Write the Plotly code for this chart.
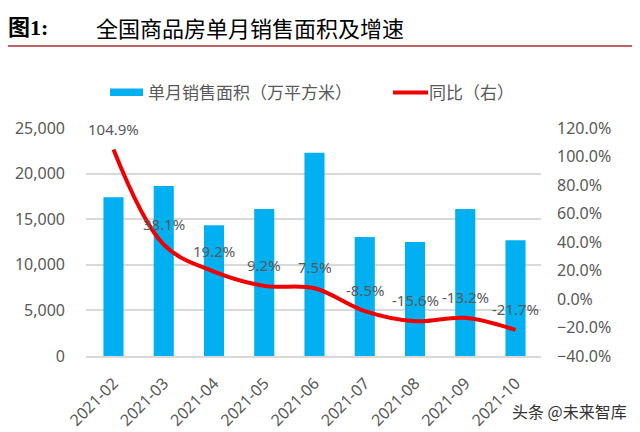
import plotly.graph_objects as go

months = ["2021-02", "2021-03", "2021-04", "2021-05", "2021-06",
          "2021-07", "2021-08", "2021-09", "2021-10"]
area = [17400, 18650, 14330, 16120, 22280, 13050, 12500, 16120, 12690]
yoy = [104.9, 38.1, 19.2, 9.2, 7.5, -8.5, -15.6, -13.2, -21.7]
yoy_labels = ["104.9%", "38.1%", "19.2%", "9.2%", "7.5%", "-8.5%", "-15.6%", "-13.2%", "-21.7%"]

# page body has an 8px margin; work in screen pixels and convert
OFF = 8
W, H = 640 - OFF, 432 - OFF
# screen plot area: x 86..541, y 128..356
SL, SR, ST, SB = 86, 541, 128, 356
L, T = SL - OFF, ST - OFF
R = W - (SR - OFF)
B = H - (SB - OFF)
pw, ph = W - L - R, H - T - B


def px(sx):
    return (sx - OFF - L) / pw


def py(sy):
    return (H - B - (sy - OFF)) / ph


gray = "#595959"
tickfont = dict(family="Noto Sans, DejaVu Sans", size=16, color=gray)
bar_color = "#00B0F0"
line_color = "#F00000"

fig = go.Figure()
fig.add_trace(go.Bar(
    x=months, y=area, name="单月销售面积（万平方米）",
    marker=dict(color=bar_color, line=dict(width=0)),
    yaxis="y", showlegend=False,
))
fig.add_trace(go.Scatter(
    x=months, y=yoy, name="同比（右）", mode="lines",
    line=dict(color=line_color, width=4, shape="spline", smoothing=1.0),
    yaxis="y2", showlegend=False,
))

annotations = []
for m, v, t in zip(months, yoy, yoy_labels):
    annotations.append(dict(
        x=m, y=v, xref="x", yref="y2", text=t, showarrow=False,
        yshift=21, font=dict(family="Noto Sans, DejaVu Sans", size=15, color=gray),
    ))

# title
annotations.append(dict(
    x=px(6), y=py(27), xref="paper", yref="paper", xanchor="left", yanchor="middle",
    text="<b>图1:</b>", showarrow=False,
    font=dict(family="Liberation Serif, Noto Sans CJK SC", size=22, color="black"),
))
annotations.append(dict(
    x=px(94), y=py(27), xref="paper", yref="paper", xanchor="left", yanchor="middle",
    text="全国商品房单月销售面积及增速", showarrow=False,
    font=dict(family="Noto Sans CJK SC", size=22, color="black"),
))
# legend (manual)
legend_font = dict(family="Noto Sans CJK SC", size=17, color=gray)
annotations.append(dict(
    x=px(146), y=py(92), xref="paper", yref="paper", xanchor="left", yanchor="middle",
    text="单月销售面积（万平方米）", showarrow=False, font=legend_font,
))
annotations.append(dict(
    x=px(427), y=py(92), xref="paper", yref="paper", xanchor="left", yanchor="middle",
    text="同比（右）", showarrow=False, font=legend_font,
))
# watermark
annotations.append(dict(
    x=px(629), y=py(411), xref="paper", yref="paper", xanchor="right", yanchor="middle",
    text="头条 @未来智库", showarrow=False,
    font=dict(family="Noto Sans CJK SC", size=16, color="#333333"),
))

shapes = [
    dict(type="line", xref="paper", yref="paper",
         x0=px(OFF - 10), x1=px(660), y0=py(46), y1=py(46),
         line=dict(color="#A8302C", width=1.5)),
    dict(type="rect", xref="paper", yref="paper",
         x0=px(110), x1=px(143), y0=py(88.5), y1=py(96),
         fillcolor=bar_color, line=dict(width=0)),
    dict(type="line", xref="paper", yref="paper",
         x0=px(393), x1=px(428), y0=py(92.5), y1=py(92.5),
         line=dict(color=line_color, width=4)),
]

fig.update_layout(
    width=W, height=H, autosize=False,
    margin=dict(l=L, r=R, t=T, b=B, pad=0, autoexpand=False),
    paper_bgcolor="white", plot_bgcolor="white",
    bargap=0.6,
    showlegend=False,
    xaxis=dict(
        type="category", tickangle=-45, tickfont=tickfont,
        showline=True, linecolor="#d9d9d9", linewidth=1.5,
        showgrid=False, ticks="", ticklen=0, automargin=False,
        ticklabelstandoff=10,
    ),
    yaxis=dict(
        range=[0, 25000], dtick=5000, tickformat=",", tickfont=tickfont,
        showgrid=True, gridcolor="#d9d9d9", gridwidth=1.5, zeroline=False,
        showline=False, ticks="", ticklabelstandoff=20, automargin=False,
    ),
    yaxis2=dict(
        range=[-40, 120], dtick=20, tickformat=".1f", ticksuffix="%",
        tickfont=tickfont, overlaying="y", side="right",
        showgrid=False, zeroline=False, showline=False, ticks="",
        ticklabelstandoff=15, automargin=False,
    ),
    annotations=annotations,
    shapes=shapes,
)

fig.write_html("out.html")
